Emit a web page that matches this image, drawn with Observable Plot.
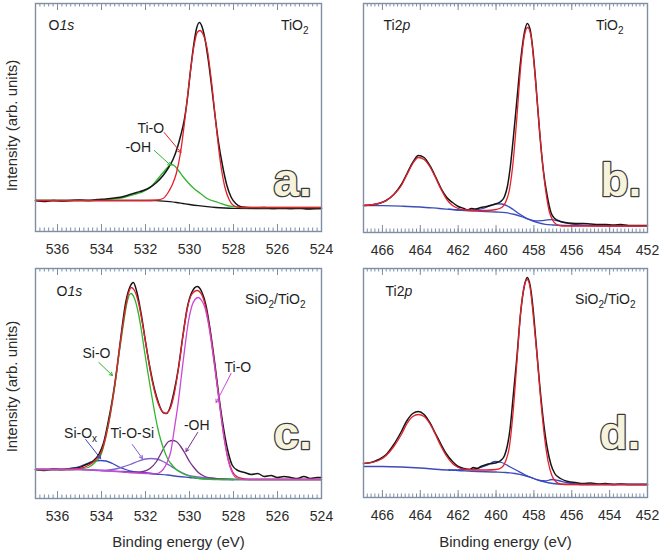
<!DOCTYPE html>
<html><head><meta charset="utf-8">
<script src="https://cdn.jsdelivr.net/npm/d3@7"></script>
<script src="https://cdn.jsdelivr.net/npm/@observablehq/plot@0.6"></script>
<style>
body{margin:0;background:#fff;}
#root{position:relative;width:661px;height:550px;overflow:hidden;font-family:"Liberation Sans",Arial,sans-serif;}
#root svg{position:absolute;background:transparent;}
</style></head><body><div id="root"></div>
<script>
// ---------- axes ----------
const oDomain = [537, 524];
const tiDomain = [467, 452];
const oTicks = [536, 534, 532, 530, 528, 526, 524];
const tiTicks = [466, 464, 462, 460, 458, 456, 454, 452];

// ---------- panel a : O1s, TiO2  [binding energy eV, intensity arb.] ----------
const aExp = [[537,31],[536.6,30],[536.2,31],[535.8,30.5],[535.4,31],[535,31.5],[534.6,31],[534.2,32],[533.8,32.5],[533.4,33.5],[533,35],[532.7,37],[532.4,39],[532.1,41],[531.8,44],[531.5,49],[531.2,56],[530.95,64],[530.75,72],[530.55,84],[530.4,96],[530.25,110],[530.1,132],[529.95,162],[529.8,188],[529.68,203],[529.55,209],[529.42,204],[529.3,193],[529.15,172],[529.0,146],[528.85,118],[528.7,92],[528.5,66],[528.3,46],[528.1,34],[527.9,28],[527.7,25],[527.4,24],[527,23.5],[526.6,24],[526.2,23],[525.8,23.5],[525.4,23],[525,23.5],[524.6,22.5],[524.2,23],[524,23]];
const aTiO = [[537,31],[535,31],[533,31],[532,31],[531.5,31.5],[531.2,33],[531.0,38],[530.8,46],[530.6,58],[530.4,80],[530.2,114],[530.0,152],[529.8,185],[529.65,199],[529.52,201],[529.4,198],[529.2,183],[529.0,150],[528.8,108],[528.6,70],[528.4,45],[528.2,32],[528.0,26],[527.7,24],[527,24],[526,24],[524,24]];
const aOH = [[537,31],[535,31],[534,31.5],[533.5,32.5],[533,34],[532.5,37],[532,41],[531.75,45],[531.5,51],[531.2,59],[531.0,64],[530.85,67],[530.7,66],[530.5,61],[530.3,55],[530.07,49],[529.8,43],[529.5,38],[529.2,33],[528.7,29],[528.3,26],[528,25],[527.5,24],[526,24],[524,24]];
const aBg = [[537,31],[533,31],[532,31],[531.5,30.8],[531.2,30.4],[530.9,29.8],[530.6,29],[530.3,28],[530,27],[529.6,25.8],[529.2,24.8],[528.8,24],[528.4,23.5],[528,23.2],[527,23],[524,23]];
const aNoteText = ["Ti-O", "-OH"];
const aNoteE = [531.76, 532.33];
const aNoteI = [103, 84];
const aArrowE1 = [531.15, 531.6], aArrowI1 = [99, 81];
const aArrowE2 = [530.39, 530.85], aArrowI2 = [79, 66];

// ---------- panel b : Ti2p, TiO2 ----------
const bExp = [[467,27],[466.6,27.5],[466.2,29],[465.8,32],[465.4,38],[465.0,48],[464.7,59],[464.4,70],[464.1,77],[463.8,75],[463.5,67],[463.2,56],[462.9,44],[462.6,35],[462.3,30],[462.0,26],[461.7,24],[461.5,22.5],[461.3,24],[461.1,23.5],[460.8,25],[460.5,26],[460.2,27.5],[459.95,29],[459.75,31],[459.55,36],[459.4,46],[459.25,65],[459.1,92],[458.9,132],[458.7,172],[458.5,200],[458.35,209],[458.2,203],[458.05,182],[457.9,150],[457.7,101],[457.5,62],[457.3,37],[457.1,20],[456.9,14],[456.6,11],[456.2,9.5],[455.8,9],[455.4,9],[455,8.5],[454.6,8],[454.2,8],[453.8,7.5],[453.4,8],[453,7],[452.5,7],[452,7]];
const bFit = [[467,27],[466.2,29],[465.8,32],[465.4,38],[465.0,47],[464.7,58],[464.4,69],[464.1,75],[463.8,73],[463.5,66],[463.2,55],[462.9,43],[462.6,33],[462.3,27],[462.0,24],[461.6,22.5],[461.0,22],[460.5,22],[460.0,23],[459.7,25],[459.5,30],[459.3,42],[459.1,70],[458.9,115],[458.7,165],[458.5,197],[458.33,205],[458.15,196],[458.0,170],[457.8,125],[457.6,80],[457.4,45],[457.2,22],[457.0,12],[456.8,8],[456.5,6.5],[456,6.5],[452,6.5]];
const bBg = [[467,27],[466,26.8],[465,26.3],[464,25.5],[463,24],[462,22.5],[461,21.3],[460,20.5],[459.5,19.8],[459,18],[458.6,15.5],[458.2,12.5],[457.8,9.8],[457.4,8.2],[457,7.5],[456.4,7],[455,6.8],[452,6.6]];
const bSat = [[462.5,23.3],[462,22.5],[461.5,22.3],[461,22.8],[460.6,24.5],[460.3,27],[460,28.7],[459.7,28.5],[459.4,26.5],[459.1,23],[458.8,19],[458.5,15.5],[458.2,12.8],[457.9,11.5],[457.6,11.8],[457.3,12.6],[457.05,12.8],[456.8,12],[456.5,10.5],[456.1,8.8],[455.6,7.5],[455,7],[454,6.7],[452,6.6]];

// ---------- panel c : O1s, SiO2/TiO2 ----------
const cExp = [[537,29],[536.6,28],[536.2,29.5],[535.8,29],[535.4,30],[535.0,31],[534.7,34],[534.4,37],[534.1,45],[533.9,56],[533.7,76],[533.5,100],[533.3,130],[533.1,165],[532.9,196],[532.7,212],[532.55,216],[532.4,207],[532.2,185],[532.0,157],[531.8,131],[531.6,110],[531.4,95],[531.2,86],[531.05,85],[530.9,90],[530.7,107],[530.5,131],[530.3,163],[530.1,191],[529.9,206],[529.65,212],[529.45,207],[529.25,193],[529.05,167],[528.85,135],[528.65,100],[528.45,70],[528.25,47],[528.05,33],[527.8,28],[527.5,26],[527.2,24],[526.9,25],[526.6,22],[526.3,23],[526.0,21],[525.7,22],[525.4,21],[525.1,20],[524.8,22],[524.5,20],[524.2,21],[524,21]];
const cFit = [[537,29],[535.5,29],[535,30],[534.6,33],[534.3,38],[534.0,47],[533.8,62],[533.6,84],[533.4,112],[533.2,146],[533.0,178],[532.8,203],[532.65,211],[532.5,208],[532.3,194],[532.1,170],[531.9,143],[531.7,118],[531.5,100],[531.3,89],[531.1,85],[530.9,89],[530.7,104],[530.5,130],[530.3,162],[530.1,190],[529.9,204],[529.65,208],[529.45,204],[529.25,190],[529.05,165],[528.85,132],[528.65,97],[528.45,64],[528.25,40],[528.05,27],[527.85,22],[527.6,20],[527.3,19],[526,19],[524,19]];
const cSiO = [[537,29],[535.5,29],[535,29.5],[534.6,31],[534.3,36],[534.0,45],[533.8,62],[533.6,84],[533.4,112],[533.2,145],[533.0,175],[532.85,195],[532.67,205],[532.5,200],[532.35,188],[532.2,170],[532.05,148],[531.9,127],[531.75,107],[531.6,88],[531.45,71],[531.3,58],[531.15,48],[531.0,40],[530.85,35],[530.6,29],[530.4,26],[530.1,23],[529.8,21],[529.3,19.5],[528.5,19],[524,19]];
const cTiO = [[537,29],[535,29],[534,28],[533,26.5],[532,25],[531.6,24.5],[531.4,25.5],[531.2,29],[531.0,37],[530.85,47],[530.7,68],[530.5,98],[530.35,126],[530.2,153],[530.05,177],[529.9,192],[529.75,199],[529.6,201],[529.45,198],[529.3,191],[529.15,176],[529.0,155],[528.85,131],[528.7,106],[528.55,80],[528.4,57],[528.25,39],[528.1,28],[527.95,22],[527.8,20],[527.5,19],[524,19]];
const cOH = [[533,26.5],[532.5,26],[532.1,27],[531.8,30],[531.5,37],[531.3,45],[531.1,53],[530.95,57],[530.77,58],[530.6,57],[530.4,52],[530.2,45],[530.0,37],[529.8,31],[529.6,26],[529.3,22],[529.0,20.5],[528.5,19.5],[528,19]];
const cTiOSi = [[534.5,28.5],[534,28],[533.5,29],[533.1,31],[532.7,34],[532.3,37.5],[532.0,39.5],[531.75,40],[531.5,39.5],[531.2,37],[530.9,33],[530.6,29],[530.3,25.5],[530.0,23],[529.6,21.5],[529.2,20.5],[528.5,19.5],[528,19]];
const cSiOx = [[537,29],[535.8,29],[535.4,30],[535.0,32],[534.7,34.5],[534.4,37],[534.05,38],[533.8,37.5],[533.5,35],[533.2,31.5],[532.9,29],[532.6,27],[532.3,26],[532,25.5],[531.5,24.5]];
const cBg = [[537,29],[535,29],[534,28],[533,27],[532,25.5],[531.5,24.5],[531,23.5],[530.5,22],[530,21],[529.5,20],[529,19.5],[528,19],[524,19]];
const cNoteText = ["Si-O", "Si-O_x", "Ti-O-Si", "-OH", "Ti-O"];
const cNoteE = [534.23, 534.95, 532.6, 529.67, 527.8];
const cNoteI = [145, 65, 65, 73, 131];
const cArrowE1 = [534.12, 534.72, 532.6, 529.63, 528.11], cArrowI1 = [136, 59, 54, 66, 125];
const cArrowE2 = [533.5, 534.04, 532.14, 530.16, 528.79], cArrowI2 = [123, 40, 40, 47, 96];

// ---------- panel d : Ti2p, SiO2/TiO2 ----------
const dExp = [[467,34],[466.6,35],[466.2,38],[465.8,43],[465.4,53],[465.0,66],[464.7,77],[464.4,84],[464.1,86],[463.8,83],[463.5,75],[463.2,64],[462.9,53],[462.6,43],[462.3,36],[462.0,31],[461.7,29],[461.4,28],[461.2,30],[461.0,29],[460.8,31],[460.5,33],[460.2,34],[459.95,35],[459.75,37],[459.55,42],[459.4,52],[459.25,70],[459.1,100],[458.9,140],[458.7,185],[458.5,212],[458.35,220],[458.2,212],[458.05,190],[457.9,158],[457.7,114],[457.5,77],[457.3,50],[457.1,33],[456.9,24],[456.6,19],[456.2,16],[455.8,15],[455.4,14],[455,14.5],[454.6,13.5],[454.2,14],[453.8,13],[453.4,13.5],[453,13],[452.5,13],[452,13]];
const dFit = [[467,34],[466.2,37],[465.8,42],[465.4,51],[465.0,63],[464.7,74],[464.4,81],[464.1,83],[463.8,81],[463.5,74],[463.2,63],[462.9,51],[462.6,41],[462.3,34],[462.0,30],[461.6,28],[461.0,27.5],[460.5,27.5],[460,28],[459.7,30],[459.5,36],[459.3,50],[459.1,85],[458.9,135],[458.7,185],[458.5,212],[458.35,218],[458.2,210],[458.05,185],[457.85,145],[457.65,100],[457.45,62],[457.25,36],[457.05,22],[456.85,16],[456.6,13.5],[456.2,13],[452,13]];
const dBg = [[467,31],[466,31],[465,30.5],[464,29.5],[463,28],[462,27],[461,26],[460,25.5],[459.5,25],[459,24],[458.5,22],[458,19],[457.5,16],[457,14],[456.5,13.2],[455,13],[452,13]];
const dSat = [[462.5,27.5],[462,27.5],[461.5,28],[461,29],[460.5,32],[460.05,36],[459.7,35],[459.3,31],[458.9,27],[458.5,23],[458.1,19.5],[457.7,17],[457.4,16.5],[457.05,18],[456.7,17],[456.3,15],[455.8,13.5],[455.3,13],[452,13]];

// ---------- styles ----------
const FRAME = "#7f8ea3";
const FONT = "Liberation Sans, Arial, sans-serif";
const C = {exp:"#161616", red:"#e4212b", green:"#2fb52f", mag:"#cc47d2", oh:"#7a2c8c", tios:"#8062cf", blue:"#3447c4", bg:"#3d4cb8"};

const root = document.getElementById("root");

function richify(svg) {
  svg.querySelectorAll("text").forEach(t => {
    if (t.querySelector("tspan")) return;
    const s = t.textContent;
    if (!/[_*]/.test(s)) return;
    const segs = []; let italic = false; let i = 0;
    while (i < s.length) {
      const ch = s[i];
      if (ch === "*") { italic = !italic; i++; continue; }
      if (ch === "_") { segs.push({t: s[i+1], it: italic, sub: true}); i += 2; continue; }
      const last = segs[segs.length-1];
      if (last && !last.sub && last.it === italic) last.t += ch; else segs.push({t: ch, it: italic, sub: false});
      i++;
    }
    t.textContent = "";
    let shifted = false;
    for (const sg of segs) {
      const ts = document.createElementNS("http://www.w3.org/2000/svg", "tspan");
      ts.textContent = sg.t;
      if (sg.it) ts.setAttribute("font-style", "italic");
      if (sg.sub) { ts.setAttribute("font-size", "10px"); if (!shifted) { ts.setAttribute("dy", "4"); shifted = true; } }
      else if (shifted) { ts.setAttribute("dy", "-4"); shifted = false; }
      t.appendChild(ts);
    }
  });
}

function panel(cfg) {
  const H = cfg.height - cfg.mT - cfg.mB;
  const n = Math.round((cfg.domain[0] - cfg.domain[1]) / 0.2);
  const minor = d3.range(0, n + 1).map(i => +(cfg.domain[1] + i * 0.2).toFixed(1));
  const marks = [
    Plot.tickX(minor, {x: d => d, stroke: FRAME, strokeWidth: 1, insetTop: H - 3.5}),
    Plot.tickX(minor, {x: d => d, stroke: FRAME, strokeWidth: 1, insetBottom: H - 3.5}),
    Plot.tickX(cfg.major, {x: d => d, stroke: FRAME, strokeWidth: 1, insetTop: H - 7}),
    Plot.tickX(cfg.major, {x: d => d, stroke: FRAME, strokeWidth: 1, insetBottom: H - 7}),
    Plot.axisX(cfg.major, {anchor: "bottom", tickSize: 0, tickPadding: 13, fontSize: 14, fill: "#2b2b2b", label: null, tickFormat: d => String(d)})
  ];
  for (const s of cfg.series) marks.push(Plot.line(s.data, {stroke: s.color, strokeWidth: s.w || 1.3, curve: "monotone-x"}));
  if (cfg.notes) {
    const nt = cfg.notes;
    const rows = nt.text.map((t, i) => ({t, E: nt.E[i], I: nt.I[i], E1: nt.E1[i], I1: nt.I1[i], E2: nt.E2[i], I2: nt.I2[i], c: nt.colors[i]}));
    marks.push(Plot.arrow(rows, {x1: "E1", y1: "I1", x2: "E2", y2: "I2", stroke: "c", strokeWidth: 1, headLength: 5}));
    marks.push(Plot.text(rows, {x: "E", y: "I", text: "t", fontSize: 14, fill: "#1e1e1e", textAnchor: "middle", lineAnchor: "middle"}));
  }
  marks.push(Plot.text([cfg.tl], {frameAnchor: "top-left", textAnchor: "start", lineAnchor: "middle", dx: cfg.tlDx, dy: cfg.tlDy, fontSize: 14, fill: "#1e1e1e"}));
  marks.push(Plot.text([cfg.tr], {frameAnchor: "top-right", textAnchor: "end", lineAnchor: "middle", dx: cfg.trDx, dy: cfg.trDy, fontSize: 14, fill: "#1e1e1e"}));
  marks.push(Plot.text([cfg.letter], {frameAnchor: "bottom-right", textAnchor: "start", lineAnchor: "bottom", dx: cfg.lDx, dy: cfg.lDy, fontSize: 46, fontWeight: "bold", fontFamily: "Liberation Sans, Arial, sans-serif", fill: "#f6f2dc", stroke: "#3b3b3b", strokeWidth: 2.6}));
  if (cfg.yLabel) marks.push(Plot.text(["Intensity (arb. units)"], {frameAnchor: "left", textAnchor: "middle", lineAnchor: "middle", rotate: -90, dx: -23, dy: cfg.yDy, fontSize: 15, fill: "#2b2b2b"}));
  if (cfg.xLabel) marks.push(Plot.text(["Binding energy (eV)"], {frameAnchor: "bottom", textAnchor: "middle", lineAnchor: "middle", dy: cfg.xDy, fontSize: 15, fill: "#2b2b2b"}));
  marks.push(Plot.frame({stroke: FRAME, strokeWidth: 1.4}));
  const svg = Plot.plot({
    width: cfg.width, height: cfg.height,
    marginLeft: cfg.mL, marginRight: cfg.mR, marginTop: cfg.mT, marginBottom: cfg.mB,
    x: {domain: cfg.domain, axis: null},
    y: {domain: [0, H], axis: null},
    style: {fontFamily: FONT, fontSize: "14px", background: "transparent", overflow: "visible"},
    marks
  });
  svg.style.left = cfg.left + "px";
  svg.style.top = cfg.top + "px";
  richify(svg);
  root.appendChild(svg);
}

panel({left: 0, top: 0, width: 330, height: 265, mL: 35, mR: 9, mT: 3, mB: 34, domain: oDomain, major: oTicks,
  series: [
    {data: aBg, color: C.exp, w: 1.3},
    {data: aOH, color: C.green},
    {data: aExp, color: C.exp, w: 1.5},
    {data: aTiO, color: C.red}
  ],
  notes: {text: aNoteText, E: aNoteE, I: aNoteI, E1: aArrowE1, I1: aArrowI1, E2: aArrowE2, I2: aArrowI2, colors: [C.red, C.green]},
  tl: "O*1s*", tlDx: 13, tlDy: 22, tr: "TiO_2", trDx: -13, trDy: 22,
  letter: "a.", lDx: -48, lDy: -36, yLabel: true, yDy: 8});

panel({left: 330, top: 0, width: 331, height: 265, mL: 33, mR: 14, mT: 3, mB: 33, domain: tiDomain, major: tiTicks,
  series: [
    {data: bBg, color: C.bg},
    {data: bSat, color: C.blue},
    {data: bExp, color: C.exp, w: 1.5},
    {data: bFit, color: C.red}
  ],
  tl: "Ti2*p*", tlDx: 20, tlDy: 22, tr: "TiO_2", trDx: -24, trDy: 22,
  letter: "b.", lDx: -47, lDy: -37});

panel({left: 0, top: 265, width: 330, height: 285, mL: 35, mR: 9, mT: 3, mB: 52, domain: oDomain, major: oTicks,
  series: [
    {data: cBg, color: C.bg},
    {data: cSiOx, color: C.blue},
    {data: cTiOSi, color: C.tios},
    {data: cOH, color: C.oh},
    {data: cExp, color: C.exp, w: 1.5},
    {data: cSiO, color: C.green},
    {data: cFit, color: C.red},
    {data: cTiO, color: C.mag}
  ],
  notes: {text: cNoteText, E: cNoteE, I: cNoteI, E1: cArrowE1, I1: cArrowI1, E2: cArrowE2, I2: cArrowI2, colors: [C.green, C.blue, C.tios, C.oh, C.mag]},
  tl: "O*1s*", tlDx: 21, tlDy: 23, tr: "SiO_2/TiO_2", trDx: -16, trDy: 31,
  letter: "c.", lDx: -48, lDy: -50, yLabel: true, yDy: 3, xLabel: true, xDy: 44});

panel({left: 330, top: 265, width: 331, height: 285, mL: 33, mR: 14, mT: 3, mB: 53, domain: tiDomain, major: tiTicks,
  series: [
    {data: dBg, color: C.bg},
    {data: dSat, color: C.blue},
    {data: dExp, color: C.exp, w: 1.5},
    {data: dFit, color: C.red}
  ],
  tl: "Ti2*p*", tlDx: 22, tlDy: 23, tr: "SiO_2/TiO_2", trDx: -12, trDy: 31,
  letter: "d.", lDx: -48, lDy: -49, xLabel: true, xDy: 45});
</script></body></html>
